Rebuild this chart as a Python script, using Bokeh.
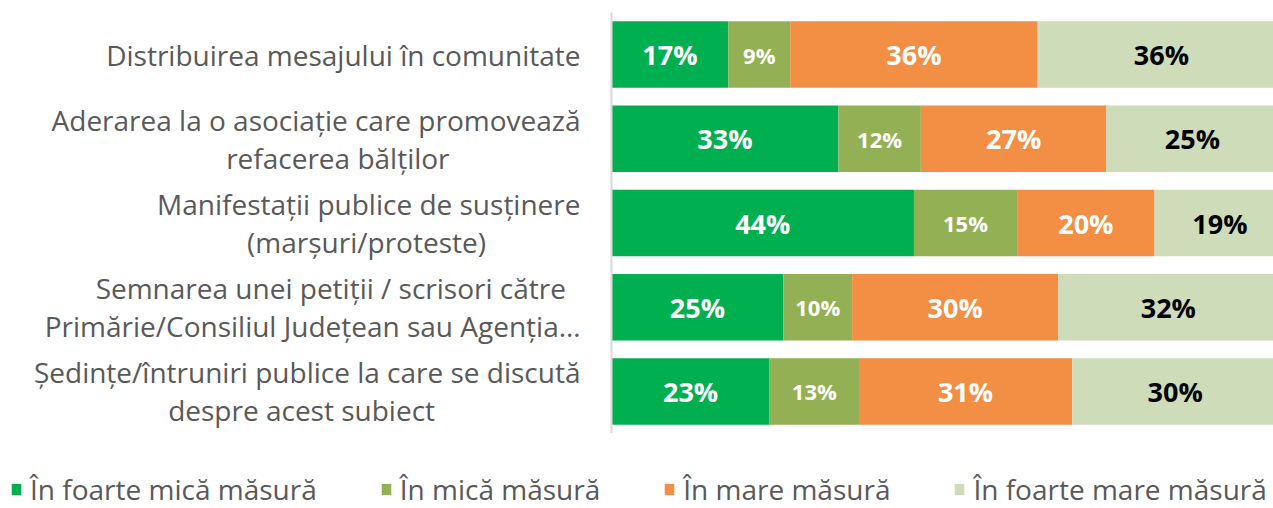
import numpy as np
from bokeh.plotting import figure
from bokeh.layouts import column, row
from bokeh.models import ColumnDataSource, FactorRange, Range1d, Legend, LegendItem
from bokeh.core.properties import value
from bokeh.embed import file_html
from bokeh.resources import INLINE

categories = [
    "Distribuirea mesajului în comunitate",
    "Aderarea la o asociație care promovează\nrefacerea bălților",
    "Manifestații publice de susținere\n(marșuri/proteste)",
    "Semnarea unei petiții / scrisori către\nPrimărie/Consiliul Județean sau Agenția…",
    "Ședințe/întruniri publice la care se discută\ndespre acest subiect",
]
series_names = ["În foarte mică măsură", "În mică măsură", "În mare măsură", "În foarte mare măsură"]
foarte_mica = [17, 33, 44, 25, 23]
mica = [9, 12, 15, 10, 13]
mare = [36, 27, 20, 30, 31]
foarte_mare = [36, 25, 19, 32, 30]

colors = ["#00AF50", "#93B054", "#F38F45", "#CFDCBA"]
label_colors = ["#FFFFFF", "#FFFFFF", "#FFFFFF", "#000000"]
label_sizes = ["27px", "22px", "27px", "27px"]
FONT = "Open Sans"


def centre_lines(label):
    # right-aligned axis labels: pad shorter lines so they look centred
    lines = label.split("\n")
    longest = max(len(l) for l in lines)
    return "\n".join(l + "\u00a0" * int(round((longest - len(l)) * 0.85)) for l in lines)


factors = [centre_lines(c) for c in categories]
series = [foarte_mica, mica, mare, foarte_mare]

p = figure(
    width=1273, height=433,
    y_range=FactorRange(factors=list(reversed(factors))),
    x_range=Range1d(0, 96.3),
    output_backend="svg", toolbar_location=None,
    min_border_left=611, min_border_right=0, min_border_top=12, min_border_bottom=0,
)

leg = figure(width=1273, height=75, output_backend="svg", toolbar_location=None,
             x_range=Range1d(0, 1), y_range=Range1d(0, 1),
             x_axis_location=None, y_axis_location=None,
             min_border_left=0, min_border_right=0, min_border_top=0, min_border_bottom=0)

left = np.zeros(len(categories))
items = []
for name, vals, col, lc, ls in zip(series_names, series, colors, label_colors, label_sizes):
    vals = np.array(vals, dtype=float)
    right = left + vals
    src = ColumnDataSource(dict(y=factors, left=left, right=right,
                                mid=(left + right) / 2,
                                txt=[f"{int(v)}%" for v in vals]))
    p.hbar(y="y", left="left", right="right", height=0.79, source=src,
           fill_color=col, line_color=None)
    p.text(x="mid", y="y", text="txt", source=src, text_align="center",
           text_baseline="middle", text_color=lc, text_font_size=ls,
           text_font=value(FONT), text_font_style="bold")
    # zero-size bar: only used to draw the legend key
    r = leg.hbar(y=[0], left=[0], right=[0], height=0, fill_color=col, line_color=None)
    items.append(LegendItem(label=name, renderers=[r]))
    left = right

legend = Legend(items=items, orientation="horizontal", location=(10, 0),
                label_text_font=FONT, label_text_font_size="28px",
                label_text_color="#595959", glyph_width=12, glyph_height=14,
                label_standoff=8, spacing=63, padding=0, margin=0,
                border_line_color=None, background_fill_alpha=0)
leg.add_layout(legend, "center")
leg.grid.visible = False
leg.outline_line_color = None

p.xaxis.visible = False
p.xgrid.visible = False
p.ygrid.visible = False
p.outline_line_color = None
yax = p.yaxis[0]
yax.major_tick_line_color = None
yax.major_tick_out = 0
yax.major_tick_in = 0
yax.minor_tick_line_color = None
yax.axis_line_color = "#D9D9D9"
yax.axis_line_width = 2
yax.major_label_standoff = 31
yax.major_label_text_font = FONT
yax.major_label_text_font_size = "28px"
yax.major_label_text_line_height = 1.0
yax.major_label_text_color = "#595959"

layout = column(p, row(leg, spacing=0), spacing=0)
open("out.html", "w").write(file_html(layout, INLINE))
